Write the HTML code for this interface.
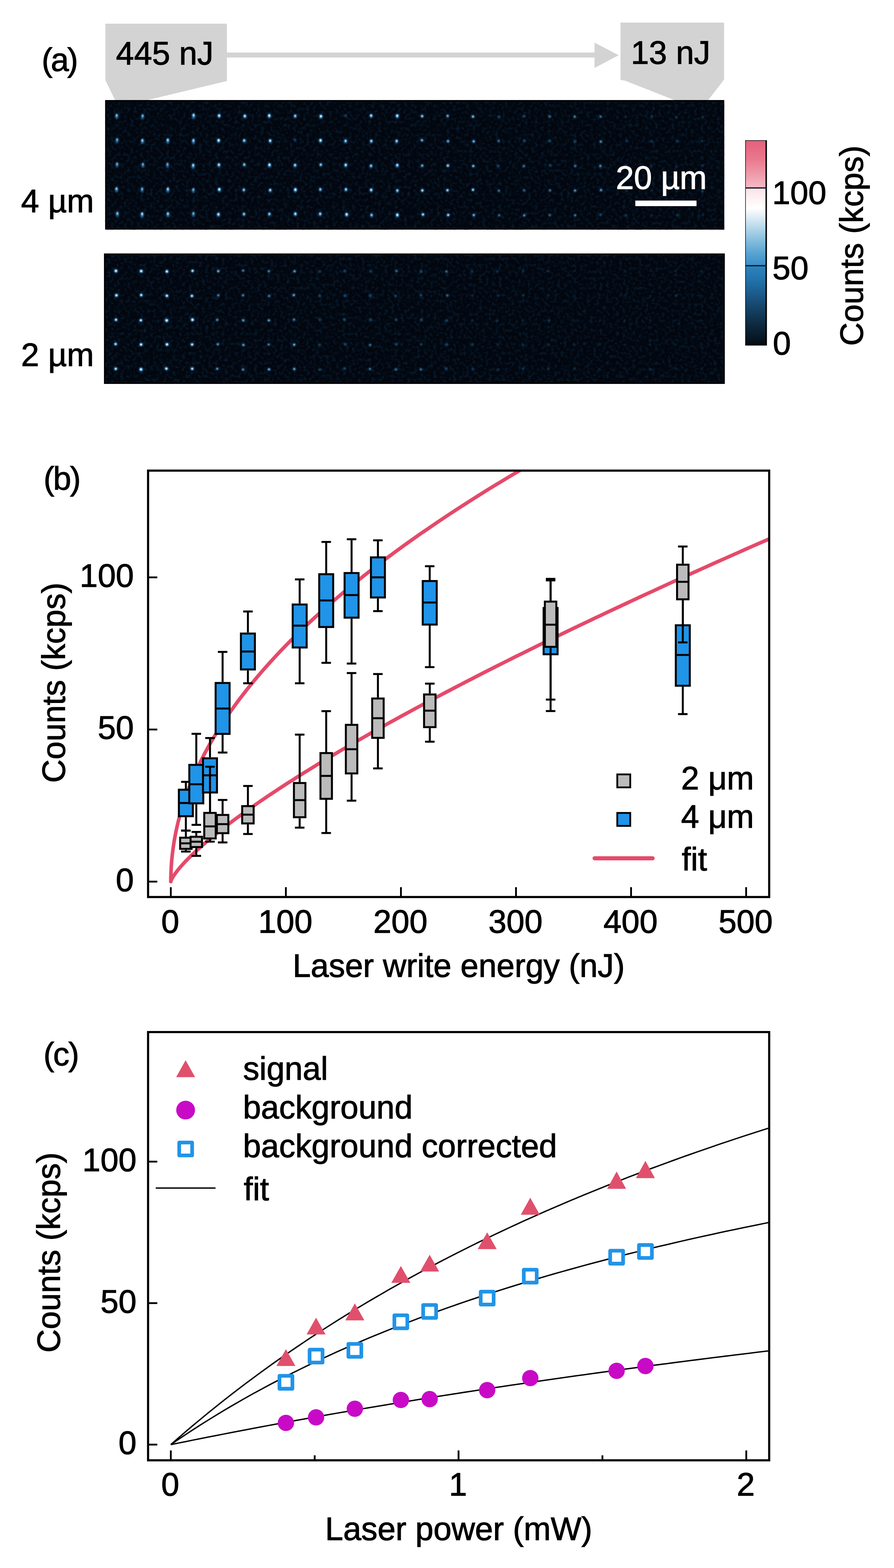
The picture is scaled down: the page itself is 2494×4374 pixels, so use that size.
<!DOCTYPE html>
<html lang="en"><head><meta charset="utf-8"><title>Figure</title>
<style>html,body{margin:0;padding:0;background:#fff}body{width:2494px;height:4374px;overflow:hidden}svg{display:block}text{font-family:'Liberation Sans', sans-serif;stroke:#000;stroke-width:1.5px;paint-order:stroke}text.w{stroke:#fff}</style>
</head><body>
<svg width="2494" height="4374" viewBox="0 0 2494 4374">
<defs>
<filter id="bl" x="-50%" y="-50%" width="200%" height="200%"><feGaussianBlur stdDeviation="1.3"/></filter>
<filter id="bl2" x="-50%" y="-50%" width="200%" height="200%"><feGaussianBlur stdDeviation="2.3"/></filter>
<filter id="nz" x="0" y="0" width="100%" height="100%" color-interpolation-filters="sRGB"><feTurbulence type="fractalNoise" baseFrequency="0.11" numOctaves="2" seed="3" result="t"/><feColorMatrix in="t" type="matrix" values="0 0 0 0 0.03  0 0 0 0 0.13  0 0 0 0 0.22  0 0 0 2.0 -0.9"/></filter>
<linearGradient id="cb" x1="0" y1="0" x2="0" y2="1">
<stop offset="0" stop-color="#e5607a"/>
<stop offset="0.09" stop-color="#e9788d"/>
<stop offset="0.175" stop-color="#f09fae"/>
<stop offset="0.228" stop-color="#f5bbc5"/>
<stop offset="0.2285" stop-color="#fbe2e6"/>
<stop offset="0.33" stop-color="#ffffff"/>
<stop offset="0.39" stop-color="#d3e6f2"/>
<stop offset="0.47" stop-color="#93c5e1"/>
<stop offset="0.555" stop-color="#55a2d2"/>
<stop offset="0.61" stop-color="#3a8fc7"/>
<stop offset="0.6105" stop-color="#2d85be"/>
<stop offset="0.68" stop-color="#2272ab"/>
<stop offset="0.73" stop-color="#1d6294"/>
<stop offset="0.81" stop-color="#15466a"/>
<stop offset="0.895" stop-color="#0d2b42"/>
<stop offset="0.98" stop-color="#06121c"/>
<stop offset="1" stop-color="#03080c"/>
</linearGradient>
</defs>
<rect width="2494" height="4374" fill="#fff"/>
<g id="panel-a">
<polygon points="294,66 633,66 633,226 408,280 321.5,280 294,224" fill="#d3d3d3"/>
<polygon points="1731,63 2020,63 2020,222 1975,280 1883.5,280 1744,225 1731,223" fill="#d3d3d3"/>
<rect x="630" y="146.5" width="1035" height="14" fill="#d3d3d3"/>
<polygon points="1658.5,119 1726,154 1658.5,189.5" fill="#d3d3d3"/>
<text x="116.2" y="198.3" font-size="90.6" text-anchor="start" fill="#000" letter-spacing="-4.5">(a)</text>
<text x="323.5" y="180" font-size="90.6" text-anchor="start" fill="#000">445 nJ</text>
<text x="1759.9" y="178" font-size="90.6" text-anchor="start" fill="#000">13 nJ</text>
<text x="58.8" y="591.6" font-size="90.6" text-anchor="start" fill="#000">4 µm</text>
<text x="58.8" y="1021.4" font-size="90.6" text-anchor="start" fill="#000">2 µm</text>
<clipPath id="cp1"><rect x="293.5" y="279.3" width="1726.8" height="360.99999999999994"/></clipPath>
<rect x="293.5" y="279.3" width="1726.8" height="360.99999999999994" fill="#02060e"/>
<rect x="293.5" y="279.3" width="1726.8" height="360.99999999999994" filter="url(#nz)"/>
<g clip-path="url(#cp1)">
<g filter="url(#bl2)"><ellipse cx="325.5" cy="324.1" rx="4.6" ry="7.8" fill="#2f95dc" opacity="0.75"/><ellipse cx="326.6" cy="391.9" rx="4.4" ry="7.5" fill="#2f95dc" opacity="0.71"/><ellipse cx="326.5" cy="459.6" rx="4.4" ry="7.5" fill="#2f95dc" opacity="0.71"/><ellipse cx="325.2" cy="528.5" rx="4.6" ry="7.9" fill="#2f95dc" opacity="0.77"/><ellipse cx="327.5" cy="597.3" rx="4.6" ry="7.9" fill="#2f95dc" opacity="0.76"/><ellipse cx="397.9" cy="325.1" rx="4.5" ry="7.6" fill="#2f95dc" opacity="0.73"/><ellipse cx="397.2" cy="393.9" rx="4.7" ry="8" fill="#2f95dc" opacity="0.79"/><ellipse cx="398.6" cy="460.6" rx="4.4" ry="7.5" fill="#2f95dc" opacity="0.71"/><ellipse cx="396.4" cy="529.3" rx="4.4" ry="7.6" fill="#2f95dc" opacity="0.72"/><ellipse cx="396.5" cy="598.8" rx="4.9" ry="8.3" fill="#2f95dc" opacity="0.82"/><ellipse cx="468.1" cy="392.8" rx="4.8" ry="8.1" fill="#2f95dc" opacity="0.80"/><ellipse cx="467.2" cy="460.5" rx="4.4" ry="7.5" fill="#2f95dc" opacity="0.71"/><ellipse cx="468.3" cy="529.5" rx="4.8" ry="8.1" fill="#2f95dc" opacity="0.80"/><ellipse cx="468.4" cy="598.2" rx="4.7" ry="8" fill="#2f95dc" opacity="0.79"/><ellipse cx="540.1" cy="323.4" rx="4.9" ry="8.2" fill="#2f95dc" opacity="0.82"/><ellipse cx="539.6" cy="394" rx="4.7" ry="8" fill="#2f95dc" opacity="0.79"/><ellipse cx="538.9" cy="463" rx="4.8" ry="8.2" fill="#2f95dc" opacity="0.81"/><ellipse cx="539.3" cy="531.1" rx="4.4" ry="7.5" fill="#2f95dc" opacity="0.72"/><ellipse cx="539.5" cy="597.6" rx="4.5" ry="7.6" fill="#2f95dc" opacity="0.72"/><ellipse cx="611.3" cy="323.3" rx="5.1" ry="6.4" fill="#2f95dc" opacity="0.88"/><ellipse cx="609.9" cy="392.3" rx="5.2" ry="6.5" fill="#2f95dc" opacity="0.91"/><ellipse cx="610.7" cy="460.3" rx="5" ry="6.3" fill="#2f95dc" opacity="0.86"/><ellipse cx="611.8" cy="529.1" rx="5.2" ry="6.5" fill="#2f95dc" opacity="0.90"/><ellipse cx="609.2" cy="598.5" rx="5.1" ry="6.4" fill="#2f95dc" opacity="0.87"/><ellipse cx="683" cy="324.2" rx="5.1" ry="6.3" fill="#2f95dc" opacity="0.87"/><ellipse cx="681.2" cy="392.5" rx="4.8" ry="6.1" fill="#2f95dc" opacity="0.82"/><ellipse cx="681.4" cy="459.7" rx="4.7" ry="5.9" fill="#2f95dc" opacity="0.78"/><ellipse cx="680.2" cy="530.2" rx="4.7" ry="5.9" fill="#2f95dc" opacity="0.79"/><ellipse cx="680.7" cy="597.7" rx="4.8" ry="5.9" fill="#2f95dc" opacity="0.79"/><ellipse cx="751.2" cy="323.3" rx="5.2" ry="6.5" fill="#2f95dc" opacity="0.91"/><ellipse cx="753.7" cy="393.1" rx="5" ry="6.3" fill="#2f95dc" opacity="0.86"/><ellipse cx="751.8" cy="460.6" rx="5.2" ry="6.5" fill="#2f95dc" opacity="0.90"/><ellipse cx="753.7" cy="530.9" rx="4.9" ry="6.1" fill="#2f95dc" opacity="0.83"/><ellipse cx="751.5" cy="597.4" rx="4.8" ry="6" fill="#2f95dc" opacity="0.80"/><ellipse cx="823.5" cy="323.9" rx="4.8" ry="6" fill="#2f95dc" opacity="0.81"/><ellipse cx="822.8" cy="390.9" rx="3.4" ry="4.3" fill="#2f95dc" opacity="0.47"/><ellipse cx="823.1" cy="461.2" rx="4.9" ry="6.2" fill="#2f95dc" opacity="0.84"/><ellipse cx="824.1" cy="529.8" rx="5.3" ry="6.6" fill="#2f95dc" opacity="0.92"/><ellipse cx="824" cy="597.1" rx="5.1" ry="6.3" fill="#2f95dc" opacity="0.87"/><ellipse cx="895.3" cy="325" rx="5.2" ry="6.5" fill="#2f95dc" opacity="0.91"/><ellipse cx="894.2" cy="392.2" rx="5.2" ry="6.5" fill="#2f95dc" opacity="0.89"/><ellipse cx="894.9" cy="459.9" rx="4.7" ry="5.9" fill="#2f95dc" opacity="0.79"/><ellipse cx="893.6" cy="528.9" rx="4.7" ry="5.9" fill="#2f95dc" opacity="0.79"/><ellipse cx="893.2" cy="597.2" rx="4.9" ry="6.1" fill="#2f95dc" opacity="0.83"/><ellipse cx="964.5" cy="322.9" rx="3.4" ry="4.3" fill="#2f95dc" opacity="0.47"/><ellipse cx="964.1" cy="393.9" rx="4.9" ry="6.1" fill="#2f95dc" opacity="0.83"/><ellipse cx="964.4" cy="460.7" rx="5.1" ry="6.3" fill="#2f95dc" opacity="0.87"/><ellipse cx="965.1" cy="529" rx="4.9" ry="6.1" fill="#2f95dc" opacity="0.83"/><ellipse cx="967" cy="598.7" rx="5.2" ry="6.5" fill="#2f95dc" opacity="0.90"/><ellipse cx="1035.3" cy="323.1" rx="5" ry="6.2" fill="#2f95dc" opacity="0.85"/><ellipse cx="1035.8" cy="393.9" rx="4.9" ry="6.1" fill="#2f95dc" opacity="0.83"/><ellipse cx="1035.1" cy="463" rx="4.8" ry="6" fill="#2f95dc" opacity="0.80"/><ellipse cx="1035.4" cy="530.5" rx="5" ry="6.2" fill="#2f95dc" opacity="0.85"/><ellipse cx="1036.6" cy="600.5" rx="4.7" ry="5.9" fill="#2f95dc" opacity="0.78"/><ellipse cx="1108.1" cy="323.7" rx="5.2" ry="6.5" fill="#2f95dc" opacity="0.90"/><ellipse cx="1106.5" cy="394" rx="4.9" ry="6.1" fill="#2f95dc" opacity="0.83"/><ellipse cx="1108.3" cy="461.3" rx="5" ry="6.3" fill="#2f95dc" opacity="0.85"/><ellipse cx="1108.4" cy="532" rx="4.8" ry="6" fill="#2f95dc" opacity="0.81"/><ellipse cx="1108.4" cy="600.2" rx="5.2" ry="6.5" fill="#2f95dc" opacity="0.90"/><ellipse cx="1177.7" cy="324" rx="4.8" ry="4.8" fill="#2f95dc" opacity="0.81"/><ellipse cx="1177.1" cy="391.2" rx="4.6" ry="4.6" fill="#2f95dc" opacity="0.76"/><ellipse cx="1177.8" cy="461.9" rx="4.6" ry="4.6" fill="#2f95dc" opacity="0.75"/><ellipse cx="1178.3" cy="531.3" rx="5" ry="5" fill="#2f95dc" opacity="0.84"/><ellipse cx="1179.9" cy="598.3" rx="5" ry="5" fill="#2f95dc" opacity="0.85"/><ellipse cx="1248.7" cy="323.2" rx="4.5" ry="4.5" fill="#2f95dc" opacity="0.74"/><ellipse cx="1249.9" cy="394" rx="4.5" ry="4.5" fill="#2f95dc" opacity="0.74"/><ellipse cx="1249.4" cy="462" rx="4.9" ry="4.9" fill="#2f95dc" opacity="0.83"/><ellipse cx="1248.3" cy="530.7" rx="4.9" ry="4.9" fill="#2f95dc" opacity="0.82"/><ellipse cx="1250.3" cy="599.7" rx="4.9" ry="4.9" fill="#2f95dc" opacity="0.84"/><ellipse cx="1319.5" cy="325.2" rx="4.7" ry="4.7" fill="#2f95dc" opacity="0.78"/><ellipse cx="1321.4" cy="394.4" rx="4.6" ry="4.6" fill="#2f95dc" opacity="0.76"/><ellipse cx="1320.2" cy="463" rx="4.6" ry="4.6" fill="#2f95dc" opacity="0.77"/><ellipse cx="1319.5" cy="529.3" rx="4.8" ry="4.8" fill="#2f95dc" opacity="0.81"/><ellipse cx="1321.7" cy="600" rx="4.5" ry="4.5" fill="#2f95dc" opacity="0.74"/><ellipse cx="1392.5" cy="325.9" rx="3.8" ry="3.8" fill="#2f95dc" opacity="0.57"/><ellipse cx="1391.1" cy="393.3" rx="4" ry="4" fill="#2f95dc" opacity="0.62"/><ellipse cx="1390" cy="463.3" rx="3.8" ry="3.8" fill="#2f95dc" opacity="0.56"/><ellipse cx="1391.6" cy="531.9" rx="4" ry="4" fill="#2f95dc" opacity="0.62"/><ellipse cx="1392.6" cy="600.3" rx="3.9" ry="3.9" fill="#2f95dc" opacity="0.60"/><ellipse cx="1461.8" cy="324.1" rx="3.9" ry="3.9" fill="#2f95dc" opacity="0.58"/><ellipse cx="1462.8" cy="392.7" rx="3.9" ry="3.9" fill="#2f95dc" opacity="0.58"/><ellipse cx="1461.4" cy="463.3" rx="4" ry="4" fill="#2f95dc" opacity="0.61"/><ellipse cx="1462.4" cy="531.1" rx="3.9" ry="3.9" fill="#2f95dc" opacity="0.60"/><ellipse cx="1462.3" cy="600.8" rx="4.2" ry="4.2" fill="#2f95dc" opacity="0.67"/><ellipse cx="1533.6" cy="325" rx="4" ry="4" fill="#2f95dc" opacity="0.62"/><ellipse cx="1533.3" cy="392.6" rx="3.8" ry="3.8" fill="#2f95dc" opacity="0.55"/><ellipse cx="1534.4" cy="461.3" rx="3.7" ry="3.7" fill="#2f95dc" opacity="0.55"/><ellipse cx="1534.2" cy="531.2" rx="4" ry="4" fill="#2f95dc" opacity="0.61"/><ellipse cx="1533.6" cy="599.9" rx="3.9" ry="3.9" fill="#2f95dc" opacity="0.59"/><ellipse cx="1603.3" cy="325.3" rx="4.2" ry="4.2" fill="#2f95dc" opacity="0.66"/><ellipse cx="1603.8" cy="394.6" rx="3.9" ry="3.9" fill="#2f95dc" opacity="0.58"/><ellipse cx="1604.7" cy="463.3" rx="4" ry="4" fill="#2f95dc" opacity="0.62"/><ellipse cx="1604.3" cy="531.5" rx="4.2" ry="4.2" fill="#2f95dc" opacity="0.67"/><ellipse cx="1604.5" cy="600.5" rx="4" ry="4" fill="#2f95dc" opacity="0.62"/><ellipse cx="1675.6" cy="325.2" rx="4" ry="4" fill="#2f95dc" opacity="0.61"/><ellipse cx="1676.1" cy="395.1" rx="4.3" ry="4.3" fill="#2f95dc" opacity="0.68"/><ellipse cx="1674.8" cy="462.9" rx="4.3" ry="4.3" fill="#2f95dc" opacity="0.68"/><ellipse cx="1676.5" cy="530.3" rx="4.3" ry="4.3" fill="#2f95dc" opacity="0.68"/><ellipse cx="1675.3" cy="598.8" rx="3.8" ry="3.8" fill="#2f95dc" opacity="0.57"/><ellipse cx="1745.2" cy="326" rx="3.1" ry="3.1" fill="#2f95dc" opacity="0.39"/><ellipse cx="1747.7" cy="393.2" rx="3.3" ry="3.3" fill="#2f95dc" opacity="0.45"/><ellipse cx="1747" cy="461.8" rx="3.3" ry="3.3" fill="#2f95dc" opacity="0.44"/><ellipse cx="1747.9" cy="530.8" rx="3.4" ry="3.4" fill="#2f95dc" opacity="0.46"/><ellipse cx="1746.2" cy="600.3" rx="3.4" ry="3.4" fill="#2f95dc" opacity="0.47"/><ellipse cx="1818.5" cy="324.7" rx="3.4" ry="3.4" fill="#2f95dc" opacity="0.47"/><ellipse cx="1817.5" cy="393.9" rx="3.2" ry="3.2" fill="#2f95dc" opacity="0.41"/><ellipse cx="1817" cy="463.8" rx="3.1" ry="3.1" fill="#2f95dc" opacity="0.38"/><ellipse cx="1817.7" cy="531.6" rx="3" ry="3" fill="#2f95dc" opacity="0.36"/><ellipse cx="1817" cy="600.9" rx="3" ry="3" fill="#2f95dc" opacity="0.36"/><ellipse cx="1887.2" cy="327.4" rx="3.2" ry="3.2" fill="#2f95dc" opacity="0.42"/><ellipse cx="1889.9" cy="393.4" rx="3.3" ry="3.3" fill="#2f95dc" opacity="0.45"/><ellipse cx="1887.1" cy="464.1" rx="3.1" ry="3.1" fill="#2f95dc" opacity="0.39"/><ellipse cx="1887.4" cy="531.8" rx="3.1" ry="3.1" fill="#2f95dc" opacity="0.39"/><ellipse cx="1889.5" cy="600" rx="3.4" ry="3.4" fill="#2f95dc" opacity="0.47"/><ellipse cx="1960.8" cy="326.3" rx="3" ry="3" fill="#2f95dc" opacity="0.38"/><ellipse cx="1958.3" cy="393.5" rx="3.3" ry="3.3" fill="#2f95dc" opacity="0.44"/><ellipse cx="1959.3" cy="462.2" rx="3.3" ry="3.3" fill="#2f95dc" opacity="0.44"/><ellipse cx="1959.9" cy="533.1" rx="3.4" ry="3.4" fill="#2f95dc" opacity="0.47"/><ellipse cx="1960.6" cy="599.6" rx="3" ry="3" fill="#2f95dc" opacity="0.37"/></g>
<g filter="url(#bl)"><ellipse cx="325.5" cy="322" rx="2.4" ry="3.4" fill="#f2f9ff" opacity="0.62"/><ellipse cx="326.6" cy="389.8" rx="2.3" ry="3.3" fill="#f2f9ff" opacity="0.53"/><ellipse cx="326.5" cy="457.5" rx="2.3" ry="3.2" fill="#f2f9ff" opacity="0.53"/><ellipse cx="325.2" cy="526.4" rx="2.4" ry="3.5" fill="#f2f9ff" opacity="0.66"/><ellipse cx="327.5" cy="595.2" rx="2.4" ry="3.5" fill="#f2f9ff" opacity="0.65"/><ellipse cx="397.9" cy="323" rx="2.4" ry="3.3" fill="#f2f9ff" opacity="0.59"/><ellipse cx="397.2" cy="391.8" rx="2.5" ry="3.6" fill="#f2f9ff" opacity="0.71"/><ellipse cx="398.6" cy="458.5" rx="2.3" ry="3.2" fill="#f2f9ff" opacity="0.53"/><ellipse cx="396.4" cy="527.2" rx="2.3" ry="3.3" fill="#f2f9ff" opacity="0.56"/><ellipse cx="396.5" cy="596.7" rx="2.6" ry="3.7" fill="#f2f9ff" opacity="0.79"/><ellipse cx="468.1" cy="390.7" rx="2.5" ry="3.6" fill="#f2f9ff" opacity="0.73"/><ellipse cx="467.2" cy="458.4" rx="2.3" ry="3.2" fill="#f2f9ff" opacity="0.53"/><ellipse cx="468.3" cy="527.4" rx="2.5" ry="3.6" fill="#f2f9ff" opacity="0.74"/><ellipse cx="468.4" cy="596.1" rx="2.5" ry="3.6" fill="#f2f9ff" opacity="0.71"/><ellipse cx="540.1" cy="321.3" rx="2.6" ry="3.7" fill="#f2f9ff" opacity="0.78"/><ellipse cx="539.6" cy="391.9" rx="2.5" ry="3.6" fill="#f2f9ff" opacity="0.71"/><ellipse cx="538.9" cy="460.9" rx="2.6" ry="3.6" fill="#f2f9ff" opacity="0.76"/><ellipse cx="539.3" cy="529" rx="2.3" ry="3.3" fill="#f2f9ff" opacity="0.55"/><ellipse cx="539.5" cy="595.5" rx="2.3" ry="3.3" fill="#f2f9ff" opacity="0.56"/><ellipse cx="611.3" cy="322.5" rx="2.8" ry="3.2" fill="#f2f9ff" opacity="0.91"/><ellipse cx="609.9" cy="391.6" rx="2.8" ry="3.3" fill="#f2f9ff" opacity="0.98"/><ellipse cx="610.7" cy="459.6" rx="2.7" ry="3.1" fill="#f2f9ff" opacity="0.88"/><ellipse cx="611.8" cy="528.3" rx="2.8" ry="3.2" fill="#f2f9ff" opacity="0.97"/><ellipse cx="609.2" cy="597.7" rx="2.7" ry="3.2" fill="#f2f9ff" opacity="0.91"/><ellipse cx="683" cy="323.5" rx="2.7" ry="3.2" fill="#f2f9ff" opacity="0.90"/><ellipse cx="681.2" cy="391.7" rx="2.6" ry="3" fill="#f2f9ff" opacity="0.78"/><ellipse cx="681.4" cy="458.9" rx="2.5" ry="2.9" fill="#f2f9ff" opacity="0.69"/><ellipse cx="680.2" cy="529.4" rx="2.5" ry="2.9" fill="#f2f9ff" opacity="0.72"/><ellipse cx="680.7" cy="597" rx="2.5" ry="2.9" fill="#f2f9ff" opacity="0.72"/><ellipse cx="751.2" cy="322.5" rx="2.8" ry="3.3" fill="#f2f9ff" opacity="0.98"/><ellipse cx="753.7" cy="392.4" rx="2.7" ry="3.1" fill="#f2f9ff" opacity="0.87"/><ellipse cx="751.8" cy="459.8" rx="2.8" ry="3.3" fill="#f2f9ff" opacity="0.97"/><ellipse cx="753.7" cy="530.2" rx="2.6" ry="3" fill="#f2f9ff" opacity="0.80"/><ellipse cx="751.5" cy="596.7" rx="2.5" ry="2.9" fill="#f2f9ff" opacity="0.73"/><ellipse cx="823.5" cy="323.2" rx="2.6" ry="3" fill="#f2f9ff" opacity="0.76"/><ellipse cx="823.1" cy="460.5" rx="2.6" ry="3" fill="#f2f9ff" opacity="0.82"/><ellipse cx="824.1" cy="529" rx="2.9" ry="3.3" fill="#f2f9ff" opacity="1.00"/><ellipse cx="824" cy="596.4" rx="2.7" ry="3.1" fill="#f2f9ff" opacity="0.89"/><ellipse cx="895.3" cy="324.2" rx="2.8" ry="3.3" fill="#f2f9ff" opacity="0.99"/><ellipse cx="894.2" cy="391.5" rx="2.8" ry="3.2" fill="#f2f9ff" opacity="0.95"/><ellipse cx="894.9" cy="459.2" rx="2.5" ry="2.9" fill="#f2f9ff" opacity="0.72"/><ellipse cx="893.6" cy="528.2" rx="2.5" ry="2.9" fill="#f2f9ff" opacity="0.70"/><ellipse cx="893.2" cy="596.4" rx="2.6" ry="3" fill="#f2f9ff" opacity="0.80"/><ellipse cx="964.1" cy="393.1" rx="2.6" ry="3" fill="#f2f9ff" opacity="0.80"/><ellipse cx="964.4" cy="460" rx="2.7" ry="3.1" fill="#f2f9ff" opacity="0.89"/><ellipse cx="965.1" cy="528.3" rx="2.6" ry="3" fill="#f2f9ff" opacity="0.80"/><ellipse cx="967" cy="598" rx="2.8" ry="3.3" fill="#f2f9ff" opacity="0.97"/><ellipse cx="1035.3" cy="322.3" rx="2.7" ry="3.1" fill="#f2f9ff" opacity="0.84"/><ellipse cx="1035.8" cy="393.2" rx="2.6" ry="3" fill="#f2f9ff" opacity="0.80"/><ellipse cx="1035.1" cy="462.3" rx="2.5" ry="2.9" fill="#f2f9ff" opacity="0.73"/><ellipse cx="1035.4" cy="529.7" rx="2.7" ry="3.1" fill="#f2f9ff" opacity="0.86"/><ellipse cx="1036.6" cy="599.7" rx="2.5" ry="2.9" fill="#f2f9ff" opacity="0.69"/><ellipse cx="1108.1" cy="323" rx="2.8" ry="3.3" fill="#f2f9ff" opacity="0.97"/><ellipse cx="1106.5" cy="393.2" rx="2.6" ry="3" fill="#f2f9ff" opacity="0.80"/><ellipse cx="1108.3" cy="460.6" rx="2.7" ry="3.1" fill="#f2f9ff" opacity="0.86"/><ellipse cx="1108.4" cy="531.3" rx="2.6" ry="2.9" fill="#f2f9ff" opacity="0.76"/><ellipse cx="1108.4" cy="599.5" rx="2.8" ry="3.3" fill="#f2f9ff" opacity="0.97"/><ellipse cx="1177.7" cy="324" rx="2.6" ry="2.6" fill="#f2f9ff" opacity="0.77"/><ellipse cx="1177.1" cy="391.2" rx="2.4" ry="2.4" fill="#f2f9ff" opacity="0.65"/><ellipse cx="1177.8" cy="461.9" rx="2.4" ry="2.4" fill="#f2f9ff" opacity="0.63"/><ellipse cx="1178.3" cy="531.3" rx="2.7" ry="2.7" fill="#f2f9ff" opacity="0.84"/><ellipse cx="1179.9" cy="598.3" rx="2.7" ry="2.7" fill="#f2f9ff" opacity="0.85"/><ellipse cx="1248.7" cy="323.2" rx="2.4" ry="2.4" fill="#f2f9ff" opacity="0.61"/><ellipse cx="1249.9" cy="394" rx="2.4" ry="2.4" fill="#f2f9ff" opacity="0.61"/><ellipse cx="1249.4" cy="462" rx="2.6" ry="2.6" fill="#f2f9ff" opacity="0.80"/><ellipse cx="1248.3" cy="530.7" rx="2.6" ry="2.6" fill="#f2f9ff" opacity="0.79"/><ellipse cx="1250.3" cy="599.7" rx="2.6" ry="2.6" fill="#f2f9ff" opacity="0.82"/><ellipse cx="1319.5" cy="325.2" rx="2.5" ry="2.5" fill="#f2f9ff" opacity="0.69"/><ellipse cx="1321.4" cy="394.4" rx="2.4" ry="2.4" fill="#f2f9ff" opacity="0.65"/><ellipse cx="1320.2" cy="463" rx="2.5" ry="2.5" fill="#f2f9ff" opacity="0.67"/><ellipse cx="1319.5" cy="529.3" rx="2.6" ry="2.6" fill="#f2f9ff" opacity="0.77"/><ellipse cx="1321.7" cy="600" rx="2.4" ry="2.4" fill="#f2f9ff" opacity="0.59"/><ellipse cx="1391.1" cy="393.3" rx="2" ry="2" fill="#f2f9ff" opacity="0.34"/><ellipse cx="1391.6" cy="531.9" rx="2" ry="2" fill="#f2f9ff" opacity="0.34"/><ellipse cx="1392.6" cy="600.3" rx="2" ry="2" fill="#f2f9ff" opacity="0.28"/><ellipse cx="1461.4" cy="463.3" rx="2" ry="2" fill="#f2f9ff" opacity="0.30"/><ellipse cx="1462.4" cy="531.1" rx="2" ry="2" fill="#f2f9ff" opacity="0.28"/><ellipse cx="1462.3" cy="600.8" rx="2.2" ry="2.2" fill="#f2f9ff" opacity="0.45"/><ellipse cx="1533.6" cy="325" rx="2" ry="2" fill="#f2f9ff" opacity="0.32"/><ellipse cx="1534.2" cy="531.2" rx="2" ry="2" fill="#f2f9ff" opacity="0.31"/><ellipse cx="1533.6" cy="599.9" rx="2" ry="2" fill="#f2f9ff" opacity="0.27"/><ellipse cx="1603.3" cy="325.3" rx="2.1" ry="2.1" fill="#f2f9ff" opacity="0.41"/><ellipse cx="1604.7" cy="463.3" rx="2" ry="2" fill="#f2f9ff" opacity="0.33"/><ellipse cx="1604.3" cy="531.5" rx="2.2" ry="2.2" fill="#f2f9ff" opacity="0.45"/><ellipse cx="1604.5" cy="600.5" rx="2" ry="2" fill="#f2f9ff" opacity="0.32"/><ellipse cx="1675.6" cy="325.2" rx="2" ry="2" fill="#f2f9ff" opacity="0.31"/><ellipse cx="1676.1" cy="395.1" rx="2.2" ry="2.2" fill="#f2f9ff" opacity="0.46"/><ellipse cx="1674.8" cy="462.9" rx="2.2" ry="2.2" fill="#f2f9ff" opacity="0.46"/><ellipse cx="1676.5" cy="530.3" rx="2.2" ry="2.2" fill="#f2f9ff" opacity="0.46"/></g>
</g>
<rect x="295.25" y="281.05" width="1723.3" height="357.5" fill="none" stroke="#000" stroke-width="3.5"/>
<clipPath id="cp2"><rect x="290.2" y="707.2" width="1731.8" height="363.5999999999999"/></clipPath>
<rect x="290.2" y="707.2" width="1731.8" height="363.5999999999999" fill="#02060e"/>
<rect x="290.2" y="707.2" width="1731.8" height="363.5999999999999" filter="url(#nz)"/>
<g clip-path="url(#cp2)">
<g filter="url(#bl2)"><ellipse cx="323.4" cy="755.7" rx="5.5" ry="5.5" fill="#2f95dc" opacity="0.98"/><ellipse cx="324.8" cy="823.8" rx="5.3" ry="5.3" fill="#2f95dc" opacity="0.93"/><ellipse cx="323.6" cy="892" rx="5.1" ry="5.1" fill="#2f95dc" opacity="0.87"/><ellipse cx="322.5" cy="959.8" rx="5" ry="5" fill="#2f95dc" opacity="0.87"/><ellipse cx="322.9" cy="1028.8" rx="5.1" ry="5.1" fill="#2f95dc" opacity="0.88"/><ellipse cx="393.9" cy="756.2" rx="5.5" ry="5.5" fill="#2f95dc" opacity="0.96"/><ellipse cx="394" cy="823.1" rx="5.1" ry="5.1" fill="#2f95dc" opacity="0.88"/><ellipse cx="393" cy="893.5" rx="5.1" ry="5.1" fill="#2f95dc" opacity="0.89"/><ellipse cx="393.6" cy="961" rx="5.3" ry="5.3" fill="#2f95dc" opacity="0.93"/><ellipse cx="393.3" cy="1030.4" rx="5.6" ry="5.6" fill="#2f95dc" opacity="0.99"/><ellipse cx="465.5" cy="757.2" rx="5.2" ry="5.2" fill="#2f95dc" opacity="0.91"/><ellipse cx="465.5" cy="825.1" rx="5.2" ry="5.2" fill="#2f95dc" opacity="0.91"/><ellipse cx="465" cy="893.8" rx="5.6" ry="5.6" fill="#2f95dc" opacity="1.00"/><ellipse cx="465.9" cy="960.8" rx="5.4" ry="5.4" fill="#2f95dc" opacity="0.96"/><ellipse cx="464.2" cy="1028.3" rx="5.2" ry="5.2" fill="#2f95dc" opacity="0.90"/><ellipse cx="537.2" cy="755.5" rx="5" ry="5" fill="#2f95dc" opacity="0.86"/><ellipse cx="535.3" cy="825.5" rx="5.1" ry="5.1" fill="#2f95dc" opacity="0.87"/><ellipse cx="537" cy="892.1" rx="5.5" ry="5.5" fill="#2f95dc" opacity="0.98"/><ellipse cx="535.9" cy="961" rx="5.1" ry="5.1" fill="#2f95dc" opacity="0.89"/><ellipse cx="536.3" cy="1028.7" rx="5.1" ry="5.1" fill="#2f95dc" opacity="0.87"/><ellipse cx="608.9" cy="756.3" rx="4.6" ry="4.6" fill="#2f95dc" opacity="0.75"/><ellipse cx="608.9" cy="823.9" rx="4.2" ry="4.2" fill="#2f95dc" opacity="0.66"/><ellipse cx="606" cy="892.4" rx="4.2" ry="4.2" fill="#2f95dc" opacity="0.67"/><ellipse cx="607.5" cy="960.2" rx="4.3" ry="4.3" fill="#2f95dc" opacity="0.69"/><ellipse cx="606" cy="1028.7" rx="4.3" ry="4.3" fill="#2f95dc" opacity="0.69"/><ellipse cx="678.2" cy="754.8" rx="4.1" ry="4.1" fill="#2f95dc" opacity="0.64"/><ellipse cx="677.9" cy="823.7" rx="4.1" ry="4.1" fill="#2f95dc" opacity="0.63"/><ellipse cx="678.6" cy="893.6" rx="4.4" ry="4.4" fill="#2f95dc" opacity="0.70"/><ellipse cx="679.1" cy="962.2" rx="4.4" ry="4.4" fill="#2f95dc" opacity="0.71"/><ellipse cx="678" cy="1030.9" rx="4.3" ry="4.3" fill="#2f95dc" opacity="0.68"/><ellipse cx="750.2" cy="756.6" rx="4.1" ry="4.1" fill="#2f95dc" opacity="0.65"/><ellipse cx="750.5" cy="825.7" rx="4.1" ry="4.1" fill="#2f95dc" opacity="0.63"/><ellipse cx="750.2" cy="893.7" rx="4.4" ry="4.4" fill="#2f95dc" opacity="0.71"/><ellipse cx="749.6" cy="961.1" rx="4.1" ry="4.1" fill="#2f95dc" opacity="0.64"/><ellipse cx="750.4" cy="1030.4" rx="4.5" ry="4.5" fill="#2f95dc" opacity="0.74"/><ellipse cx="821.7" cy="756.7" rx="4.4" ry="4.4" fill="#2f95dc" opacity="0.70"/><ellipse cx="819.7" cy="823.1" rx="4.4" ry="4.4" fill="#2f95dc" opacity="0.72"/><ellipse cx="820.1" cy="891.6" rx="4.1" ry="4.1" fill="#2f95dc" opacity="0.64"/><ellipse cx="820.7" cy="961.5" rx="4.5" ry="4.5" fill="#2f95dc" opacity="0.74"/><ellipse cx="821" cy="1029.4" rx="4.4" ry="4.4" fill="#2f95dc" opacity="0.71"/><ellipse cx="892.4" cy="756.9" rx="3.5" ry="3.5" fill="#2f95dc" opacity="0.50"/><ellipse cx="891.6" cy="825" rx="3.8" ry="3.8" fill="#2f95dc" opacity="0.56"/><ellipse cx="892.2" cy="892.1" rx="3.6" ry="3.6" fill="#2f95dc" opacity="0.51"/><ellipse cx="890.8" cy="961.8" rx="3.6" ry="3.6" fill="#2f95dc" opacity="0.51"/><ellipse cx="892.2" cy="1030.8" rx="3.6" ry="3.6" fill="#2f95dc" opacity="0.52"/><ellipse cx="962.1" cy="756.1" rx="3.8" ry="3.8" fill="#2f95dc" opacity="0.56"/><ellipse cx="963.3" cy="824.9" rx="3.9" ry="3.9" fill="#2f95dc" opacity="0.58"/><ellipse cx="961.2" cy="891.7" rx="3.9" ry="3.9" fill="#2f95dc" opacity="0.58"/><ellipse cx="963.2" cy="960.5" rx="3.7" ry="3.7" fill="#2f95dc" opacity="0.53"/><ellipse cx="961" cy="1028.1" rx="3.8" ry="3.8" fill="#2f95dc" opacity="0.57"/><ellipse cx="1034" cy="756.8" rx="3.7" ry="3.7" fill="#2f95dc" opacity="0.53"/><ellipse cx="1032.9" cy="824.5" rx="3.9" ry="3.9" fill="#2f95dc" opacity="0.58"/><ellipse cx="1033.4" cy="891.7" rx="3.8" ry="3.8" fill="#2f95dc" opacity="0.56"/><ellipse cx="1032.6" cy="962.5" rx="4" ry="4" fill="#2f95dc" opacity="0.61"/><ellipse cx="1032.1" cy="1029.3" rx="4" ry="4" fill="#2f95dc" opacity="0.62"/><ellipse cx="1105.9" cy="756" rx="4" ry="4" fill="#2f95dc" opacity="0.60"/><ellipse cx="1103.6" cy="825.8" rx="3.7" ry="3.7" fill="#2f95dc" opacity="0.53"/><ellipse cx="1104.7" cy="891.7" rx="3.6" ry="3.6" fill="#2f95dc" opacity="0.52"/><ellipse cx="1105.9" cy="960" rx="3.8" ry="3.8" fill="#2f95dc" opacity="0.56"/><ellipse cx="1104.5" cy="1030.6" rx="4" ry="4" fill="#2f95dc" opacity="0.60"/><ellipse cx="1174.7" cy="757.4" rx="3.9" ry="3.9" fill="#2f95dc" opacity="0.59"/><ellipse cx="1174.1" cy="823" rx="3.8" ry="3.8" fill="#2f95dc" opacity="0.56"/><ellipse cx="1175.4" cy="892.2" rx="3.8" ry="3.8" fill="#2f95dc" opacity="0.56"/><ellipse cx="1175" cy="960.5" rx="3.6" ry="3.6" fill="#2f95dc" opacity="0.52"/><ellipse cx="1174" cy="1030.2" rx="4" ry="4" fill="#2f95dc" opacity="0.60"/><ellipse cx="1245.4" cy="757.5" rx="4" ry="4" fill="#2f95dc" opacity="0.60"/><ellipse cx="1247.7" cy="823.9" rx="3.9" ry="3.9" fill="#2f95dc" opacity="0.59"/><ellipse cx="1246.2" cy="894.3" rx="3.7" ry="3.7" fill="#2f95dc" opacity="0.54"/><ellipse cx="1246.1" cy="960.9" rx="3.8" ry="3.8" fill="#2f95dc" opacity="0.57"/><ellipse cx="1245.1" cy="1028.2" rx="3.7" ry="3.7" fill="#2f95dc" opacity="0.53"/><ellipse cx="1316.9" cy="757.5" rx="3.4" ry="3.4" fill="#2f95dc" opacity="0.46"/><ellipse cx="1316.8" cy="824.5" rx="3.1" ry="3.1" fill="#2f95dc" opacity="0.39"/><ellipse cx="1317.1" cy="894.2" rx="3.1" ry="3.1" fill="#2f95dc" opacity="0.38"/><ellipse cx="1318.4" cy="961.5" rx="3.4" ry="3.4" fill="#2f95dc" opacity="0.46"/><ellipse cx="1318.8" cy="1029.5" rx="3.4" ry="3.4" fill="#2f95dc" opacity="0.47"/><ellipse cx="1387.1" cy="756.9" rx="3.3" ry="3.3" fill="#2f95dc" opacity="0.44"/><ellipse cx="1389.3" cy="824.9" rx="3.2" ry="3.2" fill="#2f95dc" opacity="0.41"/><ellipse cx="1387.1" cy="894.1" rx="3.1" ry="3.1" fill="#2f95dc" opacity="0.39"/><ellipse cx="1388.4" cy="960.6" rx="3" ry="3" fill="#2f95dc" opacity="0.38"/><ellipse cx="1389.2" cy="1030.8" rx="3.1" ry="3.1" fill="#2f95dc" opacity="0.40"/><ellipse cx="1460" cy="755.6" rx="3.1" ry="3.1" fill="#2f95dc" opacity="0.39"/><ellipse cx="1459.2" cy="823.5" rx="3.2" ry="3.2" fill="#2f95dc" opacity="0.43"/><ellipse cx="1458.6" cy="894" rx="3" ry="3" fill="#2f95dc" opacity="0.38"/><ellipse cx="1458.7" cy="962.3" rx="3.2" ry="3.2" fill="#2f95dc" opacity="0.42"/><ellipse cx="1459.3" cy="1028.3" rx="3.4" ry="3.4" fill="#2f95dc" opacity="0.47"/><ellipse cx="1529.3" cy="755.7" rx="3.1" ry="3.1" fill="#2f95dc" opacity="0.38"/><ellipse cx="1529.7" cy="823.8" rx="3" ry="3" fill="#2f95dc" opacity="0.37"/><ellipse cx="1531.7" cy="893.5" rx="3.2" ry="3.2" fill="#2f95dc" opacity="0.43"/><ellipse cx="1530.2" cy="961.2" rx="3.2" ry="3.2" fill="#2f95dc" opacity="0.41"/><ellipse cx="1530" cy="1028.1" rx="3.1" ry="3.1" fill="#2f95dc" opacity="0.40"/><ellipse cx="1602.9" cy="755.1" rx="2.6" ry="2.6" fill="#2f95dc" opacity="0.28"/><ellipse cx="1601.9" cy="825.6" rx="2.7" ry="2.7" fill="#2f95dc" opacity="0.31"/><ellipse cx="1600.8" cy="892" rx="2.6" ry="2.6" fill="#2f95dc" opacity="0.27"/><ellipse cx="1601.3" cy="962.5" rx="2.7" ry="2.7" fill="#2f95dc" opacity="0.29"/><ellipse cx="1602.6" cy="1028" rx="2.9" ry="2.9" fill="#2f95dc" opacity="0.35"/><ellipse cx="1673.1" cy="757.4" rx="2.5" ry="2.5" fill="#2f95dc" opacity="0.25"/><ellipse cx="1672.8" cy="823" rx="2.7" ry="2.7" fill="#2f95dc" opacity="0.30"/><ellipse cx="1673.8" cy="893.8" rx="2.7" ry="2.7" fill="#2f95dc" opacity="0.29"/><ellipse cx="1673.9" cy="960.3" rx="2.9" ry="2.9" fill="#2f95dc" opacity="0.35"/><ellipse cx="1671.5" cy="1029.5" rx="2.6" ry="2.6" fill="#2f95dc" opacity="0.26"/><ellipse cx="1744.8" cy="756.9" rx="2.8" ry="2.8" fill="#2f95dc" opacity="0.33"/><ellipse cx="1744.3" cy="824.4" rx="2.8" ry="2.8" fill="#2f95dc" opacity="0.32"/><ellipse cx="1742.1" cy="893.6" rx="2.8" ry="2.8" fill="#2f95dc" opacity="0.31"/><ellipse cx="1744.8" cy="961.5" rx="2.6" ry="2.6" fill="#2f95dc" opacity="0.28"/><ellipse cx="1742.4" cy="1028.7" rx="2.6" ry="2.6" fill="#2f95dc" opacity="0.28"/><ellipse cx="1815.1" cy="755" rx="2.8" ry="2.8" fill="#2f95dc" opacity="0.32"/><ellipse cx="1814.6" cy="824.7" rx="2.5" ry="2.5" fill="#2f95dc" opacity="0.26"/><ellipse cx="1813.7" cy="893.1" rx="2.7" ry="2.7" fill="#2f95dc" opacity="0.29"/><ellipse cx="1813.9" cy="961" rx="2.5" ry="2.5" fill="#2f95dc" opacity="0.25"/><ellipse cx="1814.9" cy="1030.6" rx="2.9" ry="2.9" fill="#2f95dc" opacity="0.36"/><ellipse cx="1884.7" cy="755.4" rx="2.7" ry="2.7" fill="#2f95dc" opacity="0.30"/><ellipse cx="1886.1" cy="823.9" rx="2.9" ry="2.9" fill="#2f95dc" opacity="0.36"/><ellipse cx="1885.5" cy="893.3" rx="2.5" ry="2.5" fill="#2f95dc" opacity="0.25"/><ellipse cx="1884.8" cy="961.6" rx="2.7" ry="2.7" fill="#2f95dc" opacity="0.30"/><ellipse cx="1884.7" cy="1028" rx="2.9" ry="2.9" fill="#2f95dc" opacity="0.35"/><ellipse cx="1956.3" cy="756.7" rx="2.7" ry="2.7" fill="#2f95dc" opacity="0.29"/><ellipse cx="1957.4" cy="825.2" rx="2.6" ry="2.6" fill="#2f95dc" opacity="0.27"/><ellipse cx="1955.6" cy="894.2" rx="2.7" ry="2.7" fill="#2f95dc" opacity="0.31"/><ellipse cx="1957.5" cy="960.3" rx="2.6" ry="2.6" fill="#2f95dc" opacity="0.29"/><ellipse cx="1957.3" cy="1028.8" rx="2.6" ry="2.6" fill="#2f95dc" opacity="0.27"/></g>
<g filter="url(#bl)"><ellipse cx="323.4" cy="755.7" rx="3" ry="3" fill="#f2f9ff" opacity="1.00"/><ellipse cx="324.8" cy="823.8" rx="2.9" ry="2.9" fill="#f2f9ff" opacity="1.00"/><ellipse cx="323.6" cy="892" rx="2.7" ry="2.7" fill="#f2f9ff" opacity="0.89"/><ellipse cx="322.5" cy="959.8" rx="2.7" ry="2.7" fill="#f2f9ff" opacity="0.89"/><ellipse cx="322.9" cy="1028.8" rx="2.8" ry="2.8" fill="#f2f9ff" opacity="0.92"/><ellipse cx="393.9" cy="756.2" rx="3" ry="3" fill="#f2f9ff" opacity="1.00"/><ellipse cx="394" cy="823.1" rx="2.8" ry="2.8" fill="#f2f9ff" opacity="0.91"/><ellipse cx="393" cy="893.5" rx="2.8" ry="2.8" fill="#f2f9ff" opacity="0.94"/><ellipse cx="393.6" cy="961" rx="2.9" ry="2.9" fill="#f2f9ff" opacity="1.00"/><ellipse cx="393.3" cy="1030.4" rx="3.1" ry="3.1" fill="#f2f9ff" opacity="1.00"/><ellipse cx="465.5" cy="757.2" rx="2.9" ry="2.9" fill="#f2f9ff" opacity="1.00"/><ellipse cx="465.5" cy="825.1" rx="2.8" ry="2.8" fill="#f2f9ff" opacity="0.98"/><ellipse cx="465" cy="893.8" rx="3.1" ry="3.1" fill="#f2f9ff" opacity="1.00"/><ellipse cx="465.9" cy="960.8" rx="3" ry="3" fill="#f2f9ff" opacity="1.00"/><ellipse cx="464.2" cy="1028.3" rx="2.8" ry="2.8" fill="#f2f9ff" opacity="0.97"/><ellipse cx="537.2" cy="755.5" rx="2.7" ry="2.7" fill="#f2f9ff" opacity="0.87"/><ellipse cx="535.3" cy="825.5" rx="2.7" ry="2.7" fill="#f2f9ff" opacity="0.91"/><ellipse cx="537" cy="892.1" rx="3" ry="3" fill="#f2f9ff" opacity="1.00"/><ellipse cx="535.9" cy="961" rx="2.8" ry="2.8" fill="#f2f9ff" opacity="0.93"/><ellipse cx="536.3" cy="1028.7" rx="2.7" ry="2.7" fill="#f2f9ff" opacity="0.90"/><ellipse cx="608.9" cy="756.3" rx="2.4" ry="2.4" fill="#f2f9ff" opacity="0.63"/><ellipse cx="608.9" cy="823.9" rx="2.1" ry="2.1" fill="#f2f9ff" opacity="0.41"/><ellipse cx="606" cy="892.4" rx="2.2" ry="2.2" fill="#f2f9ff" opacity="0.45"/><ellipse cx="607.5" cy="960.2" rx="2.2" ry="2.2" fill="#f2f9ff" opacity="0.49"/><ellipse cx="606" cy="1028.7" rx="2.2" ry="2.2" fill="#f2f9ff" opacity="0.49"/><ellipse cx="678.2" cy="754.8" rx="2.1" ry="2.1" fill="#f2f9ff" opacity="0.37"/><ellipse cx="677.9" cy="823.7" rx="2.1" ry="2.1" fill="#f2f9ff" opacity="0.35"/><ellipse cx="678.6" cy="893.6" rx="2.3" ry="2.3" fill="#f2f9ff" opacity="0.52"/><ellipse cx="679.1" cy="962.2" rx="2.3" ry="2.3" fill="#f2f9ff" opacity="0.54"/><ellipse cx="678" cy="1030.9" rx="2.2" ry="2.2" fill="#f2f9ff" opacity="0.46"/><ellipse cx="750.2" cy="756.6" rx="2.1" ry="2.1" fill="#f2f9ff" opacity="0.39"/><ellipse cx="750.5" cy="825.7" rx="2.1" ry="2.1" fill="#f2f9ff" opacity="0.35"/><ellipse cx="750.2" cy="893.7" rx="2.3" ry="2.3" fill="#f2f9ff" opacity="0.53"/><ellipse cx="749.6" cy="961.1" rx="2.1" ry="2.1" fill="#f2f9ff" opacity="0.38"/><ellipse cx="750.4" cy="1030.4" rx="2.4" ry="2.4" fill="#f2f9ff" opacity="0.60"/><ellipse cx="821.7" cy="756.7" rx="2.3" ry="2.3" fill="#f2f9ff" opacity="0.52"/><ellipse cx="819.7" cy="823.1" rx="2.3" ry="2.3" fill="#f2f9ff" opacity="0.55"/><ellipse cx="820.1" cy="891.6" rx="2.1" ry="2.1" fill="#f2f9ff" opacity="0.38"/><ellipse cx="820.7" cy="961.5" rx="2.4" ry="2.4" fill="#f2f9ff" opacity="0.60"/><ellipse cx="821" cy="1029.4" rx="2.3" ry="2.3" fill="#f2f9ff" opacity="0.53"/><ellipse cx="1032.6" cy="962.5" rx="2" ry="2" fill="#f2f9ff" opacity="0.31"/><ellipse cx="1032.1" cy="1029.3" rx="2" ry="2" fill="#f2f9ff" opacity="0.32"/><ellipse cx="1105.9" cy="756" rx="2" ry="2" fill="#f2f9ff" opacity="0.29"/><ellipse cx="1104.5" cy="1030.6" rx="2" ry="2" fill="#f2f9ff" opacity="0.29"/><ellipse cx="1174" cy="1030.2" rx="2" ry="2" fill="#f2f9ff" opacity="0.29"/><ellipse cx="1245.4" cy="757.5" rx="2" ry="2" fill="#f2f9ff" opacity="0.29"/><ellipse cx="1247.7" cy="823.9" rx="1.9" ry="1.9" fill="#f2f9ff" opacity="0.26"/></g>
</g>
<rect x="291.95" y="708.95" width="1728.3" height="360.1" fill="none" stroke="#000" stroke-width="3.5"/>
<rect x="1772.3" y="559.5" width="170.8" height="15.5" fill="#fff"/>
<text x="1718" y="526.9" font-size="90.6" text-anchor="start" fill="#fff" class="w">20 µm</text>
<rect x="2079" y="392" width="60" height="571" fill="url(#cb)"/>
<rect x="2079.7" y="392" width="58.5" height="571" fill="none" stroke="#000" stroke-width="1.5"/>
<rect x="2135.5" y="391.5" width="4" height="572" fill="#000"/>
<rect x="2079" y="522.5" width="60" height="3.5" fill="#101820"/>
<rect x="2079" y="739.5" width="60" height="3.5" fill="#0a1a28"/>
<rect x="2079" y="959" width="60" height="4.5" fill="#000"/>
<text x="2154.2" y="569.3" font-size="90.6" text-anchor="start" fill="#000">100</text>
<text x="2154.8" y="778.8" font-size="90.6" text-anchor="start" fill="#000">50</text>
<text x="2155.9" y="989" font-size="90.6" text-anchor="start" fill="#000">0</text>
<text transform="translate(2407 685.3) rotate(-90)" font-size="90.6" text-anchor="middle">Counts (kcps)</text>
</g>
<g id="panel-b">
<clipPath id="cpb"><rect x="413.1" y="1312.8" width="1732.7000000000003" height="1189.5000000000002"/></clipPath>
<g clip-path="url(#cpb)" fill="none" stroke="#e54a6a" stroke-width="10" stroke-linecap="round" stroke-linejoin="round">
<path d="M476.5,2459.3 L476.5,2451.8 L476.7,2444.3 L476.9,2436.9 L477.2,2429.4 L477.5,2421.9 L478,2414.4 L478.5,2407 L479.1,2399.5 L479.9,2392 L480.6,2384.5 L481.5,2377 L482.5,2369.6 L483.5,2362.1 L484.6,2354.6 L485.8,2347.1 L487.1,2339.7 L488.5,2332.2 L489.9,2324.7 L491.4,2317.2 L493.1,2309.8 L494.7,2302.3 L496.5,2294.8 L498.4,2287.3 L500.3,2279.8 L502.4,2272.4 L504.5,2264.9 L506.7,2257.4 L508.9,2249.9 L511.3,2242.5 L513.7,2235 L516.3,2227.5 L518.9,2220 L521.6,2212.5 L524.3,2205.1 L527.2,2197.6 L530.1,2190.1 L533.1,2182.6 L536.3,2175.2 L539.4,2167.7 L542.7,2160.2 L546.1,2152.7 L549.5,2145.2 L553,2137.8 L556.6,2130.3 L560.3,2122.8 L564.1,2115.3 L567.9,2107.9 L571.8,2100.4 L575.9,2092.9 L579.9,2085.4 L584.1,2078 L588.4,2070.5 L592.7,2063 L597.2,2055.5 L601.7,2048 L606.3,2040.6 L610.9,2033.1 L615.7,2025.6 L620.5,2018.1 L625.5,2010.7 L630.5,2003.2 L635.6,1995.7 L640.7,1988.2 L646,1980.7 L651.3,1973.3 L656.7,1965.8 L662.2,1958.3 L667.8,1950.8 L673.5,1943.4 L679.3,1935.9 L685.1,1928.4 L691,1920.9 L697,1913.4 L703.1,1906 L709.3,1898.5 L715.5,1891 L721.8,1883.5 L728.2,1876.1 L734.7,1868.6 L741.3,1861.1 L748,1853.6 L754.7,1846.1 L761.6,1838.7 L768.5,1831.2 L775.5,1823.7 L782.5,1816.2 L789.7,1808.8 L796.9,1801.3 L804.3,1793.8 L811.7,1786.3 L819.2,1778.9 L826.7,1771.4 L834.4,1763.9 L842.1,1756.4 L849.9,1748.9 L857.8,1741.5 L865.8,1734 L873.9,1726.5 L882.1,1719 L890.3,1711.6 L898.6,1704.1 L907,1696.6 L915.5,1689.1 L924.1,1681.6 L932.7,1674.2 L941.4,1666.7 L950.2,1659.2 L959.1,1651.7 L968.1,1644.3 L977.2,1636.8 L986.3,1629.3 L995.6,1621.8 L1004.9,1614.3 L1014.3,1606.9 L1023.7,1599.4 L1033.3,1591.9 L1042.9,1584.4 L1052.7,1577 L1062.5,1569.5 L1072.4,1562 L1082.3,1554.5 L1092.4,1547.1 L1102.5,1539.6 L1112.7,1532.1 L1123,1524.6 L1133.4,1517.1 L1143.9,1509.7 L1154.5,1502.2 L1165.1,1494.7 L1175.8,1487.2 L1186.6,1479.8 L1197.5,1472.3 L1208.5,1464.8 L1219.5,1457.3 L1230.6,1449.8 L1241.8,1442.4 L1253.1,1434.9 L1264.5,1427.4 L1276,1419.9 L1287.5,1412.5 L1299.2,1405 L1310.9,1397.5 L1322.7,1390 L1334.5,1382.5 L1346.5,1375.1 L1358.5,1367.6 L1370.7,1360.1 L1382.9,1352.6 L1395.2,1345.2 L1407.5,1337.7 L1420,1330.2 L1432.5,1322.7 L1445.1,1315.3 L1457.8,1307.8 L1470.6,1300.3 L1483.5,1292.8 L1496.4,1285.3 L1509.5,1277.9 L1522.6,1270.4 L1535.8,1262.9"/>
<path d="M476.5,2459.3 L476.6,2458.9 L476.8,2458.1 L477.1,2457.1 L477.6,2455.9 L478.1,2454.5 L478.9,2452.9 L479.7,2451.2 L480.7,2449.4 L481.8,2447.4 L483.1,2445.3 L484.5,2443.2 L486,2440.9 L487.6,2438.5 L489.4,2436 L491.3,2433.4 L493.4,2430.7 L495.5,2427.9 L497.8,2425.1 L500.3,2422.1 L502.8,2419.1 L505.5,2416 L508.4,2412.8 L511.3,2409.5 L514.4,2406.2 L517.6,2402.8 L521,2399.3 L524.5,2395.7 L528.1,2392.1 L531.9,2388.4 L535.7,2384.6 L539.8,2380.8 L543.9,2376.9 L548.2,2372.9 L552.6,2368.9 L557.1,2364.8 L561.8,2360.6 L566.6,2356.4 L571.6,2352.1 L576.6,2347.8 L581.8,2343.4 L587.2,2338.9 L592.6,2334.4 L598.2,2329.9 L603.9,2325.2 L609.8,2320.5 L615.8,2315.8 L621.9,2311 L628.2,2306.2 L634.6,2301.3 L641.1,2296.3 L647.7,2291.3 L654.5,2286.3 L661.4,2281.2 L668.5,2276 L675.6,2270.8 L682.9,2265.5 L690.4,2260.2 L698,2254.9 L705.7,2249.5 L713.5,2244 L721.5,2238.5 L729.6,2232.9 L737.8,2227.3 L746.1,2221.7 L754.6,2216 L763.3,2210.3 L772,2204.5 L780.9,2198.6 L789.9,2192.8 L799.1,2186.8 L808.3,2180.9 L817.8,2174.9 L827.3,2168.8 L837,2162.7 L846.8,2156.6 L856.7,2150.4 L866.8,2144.2 L877,2137.9 L887.3,2131.6 L897.8,2125.2 L908.4,2118.8 L919.1,2112.4 L930,2105.9 L941,2099.4 L952.1,2092.8 L963.4,2086.2 L974.8,2079.6 L986.3,2072.9 L997.9,2066.1 L1009.7,2059.4 L1021.6,2052.6 L1033.7,2045.7 L1045.9,2038.8 L1058.2,2031.9 L1070.6,2025 L1083.2,2017.9 L1095.9,2010.9 L1108.7,2003.8 L1121.7,1996.7 L1134.8,1989.6 L1148,1982.4 L1161.4,1975.1 L1174.9,1967.9 L1188.5,1960.6 L1202.3,1953.2 L1216.2,1945.8 L1230.2,1938.4 L1244.3,1931 L1258.6,1923.5 L1273,1916 L1287.6,1908.4 L1302.3,1900.8 L1317.1,1893.2 L1332,1885.5 L1347.1,1877.8 L1362.3,1870 L1377.6,1862.3 L1393.1,1854.5 L1408.7,1846.6 L1424.5,1838.7 L1440.3,1830.8 L1456.3,1822.9 L1472.4,1814.9 L1488.7,1806.9 L1505.1,1798.8 L1521.6,1790.7 L1538.3,1782.6 L1555.1,1774.5 L1572,1766.3 L1589,1758 L1606.2,1749.8 L1623.5,1741.5 L1641,1733.2 L1658.5,1724.8 L1676.3,1716.4 L1694.1,1708 L1712.1,1699.6 L1730.2,1691.1 L1748.4,1682.6 L1766.8,1674 L1785.3,1665.4 L1803.9,1656.8 L1822.7,1648.2 L1841.6,1639.5 L1860.6,1630.8 L1879.7,1622 L1899,1613.3 L1918.4,1604.5 L1938,1595.6 L1957.7,1586.8 L1977.5,1577.9 L1997.4,1568.9 L2017.5,1560 L2037.7,1551 L2058.1,1542 L2078.5,1532.9 L2099.1,1523.8 L2119.9,1514.7 L2140.8,1505.6 L2161.8,1496.4"/>
</g>
<g stroke="#000" stroke-width="5.5" fill="none"><path d="M518.5,2180.9 V2200.2 M518.5,2279.7 V2317 M505.2,2180.9 h26.5 M505.2,2317 h26.5"/><rect x="499" y="2202.9" width="39" height="74" fill="#2094e8"/><line x1="499" y1="2240" x2="538" y2="2240"/></g>
<g stroke="#000" stroke-width="5.5" fill="none"><path d="M547.6,2047 V2130.8 M547.6,2243.7 V2301 M534.4,2047 h26.5 M534.4,2301 h26.5"/><rect x="528.1" y="2133.6" width="39" height="107.4" fill="#2094e8"/><line x1="528.1" y1="2187.8" x2="567.1" y2="2187.8"/></g>
<g stroke="#000" stroke-width="5.5" fill="none"><path d="M585.8,2058.7 V2112.6 M585.8,2213.5 V2290 M572.5,2058.7 h26.5 M572.5,2290 h26.5"/><rect x="566.3" y="2115.3" width="39" height="95.4" fill="#2094e8"/><line x1="566.3" y1="2162.7" x2="605.3" y2="2162.7"/></g>
<g stroke="#000" stroke-width="5.5" fill="none"><path d="M621,1818.5 V1902.5 M621,2050 V2099.2 M607.8,1818.5 h26.5 M607.8,2099.2 h26.5"/><rect x="601.5" y="1905.2" width="39" height="142" fill="#2094e8"/><line x1="601.5" y1="1976.5" x2="640.5" y2="1976.5"/></g>
<g stroke="#000" stroke-width="5.5" fill="none"><path d="M691.6,1705.8 V1764.6 M691.6,1870.3 V1906 M678.4,1705.8 h26.5 M678.4,1906 h26.5"/><rect x="672.1" y="1767.3" width="39" height="100.2" fill="#2094e8"/><line x1="672.1" y1="1817.4" x2="711.1" y2="1817.4"/></g>
<g stroke="#000" stroke-width="5.5" fill="none"><path d="M836,1616.2 V1683.6 M836,1809 V1906 M822.8,1616.2 h26.5 M822.8,1906 h26.5"/><rect x="816.5" y="1686.3" width="39" height="119.9" fill="#2094e8"/><line x1="816.5" y1="1745.3" x2="855.5" y2="1745.3"/></g>
<g stroke="#000" stroke-width="5.5" fill="none"><path d="M910,1511.8 V1599 M910,1751.8 V1849 M896.8,1511.8 h26.5 M896.8,1849 h26.5"/><rect x="890.5" y="1601.8" width="39" height="147.3" fill="#2094e8"/><line x1="890.5" y1="1675" x2="929.5" y2="1675"/></g>
<g stroke="#000" stroke-width="5.5" fill="none"><path d="M980.8,1504.3 V1595.7 M980.8,1725.7 V1851 M967.5,1504.3 h26.5 M967.5,1851 h26.5"/><rect x="961.3" y="1598.5" width="39" height="124.5" fill="#2094e8"/><line x1="961.3" y1="1660" x2="1000.3" y2="1660"/></g>
<g stroke="#000" stroke-width="5.5" fill="none"><path d="M1054.3,1507.3 V1552 M1054.3,1669.4 V1704.8 M1041,1507.3 h26.5 M1041,1704.8 h26.5"/><rect x="1034.8" y="1554.8" width="39" height="111.9" fill="#2094e8"/><line x1="1034.8" y1="1610.4" x2="1073.8" y2="1610.4"/></g>
<g stroke="#000" stroke-width="5.5" fill="none"><path d="M1198.8,1579.5 V1618 M1198.8,1745 V1861 M1185.5,1579.5 h26.5 M1185.5,1861 h26.5"/><rect x="1179.3" y="1620.8" width="39" height="121.5" fill="#2094e8"/><line x1="1179.3" y1="1680.8" x2="1218.3" y2="1680.8"/></g>
<g stroke="#000" stroke-width="5.5" fill="none"><path d="M1536,1614.8 V1693.2 M1536,1827.8 V1983.6 M1522.8,1614.8 h26.5 M1522.8,1983.6 h26.5"/><rect x="1516.5" y="1696" width="39" height="129.1" fill="#2094e8"/><line x1="1516.5" y1="1745" x2="1555.5" y2="1745"/></g>
<g stroke="#000" stroke-width="5.5" fill="none"><path d="M1904.8,1640 V1741.4 M1904.8,1915.6 V1991.9 M1891.5,1640 h26.5 M1891.5,1991.9 h26.5"/><rect x="1885.3" y="1744.2" width="39" height="168.7" fill="#2094e8"/><line x1="1885.3" y1="1827" x2="1924.3" y2="1827"/></g>
<g stroke="#000" stroke-width="5.5" fill="none"><path d="M518.5,2317 V2334 M518.5,2370.7 V2375.6 M505.2,2317 h26.5 M505.2,2375.6 h26.5"/><rect x="502.5" y="2336.8" width="32" height="31.2" fill="#bbbbbb"/><line x1="502.5" y1="2352.6" x2="534.5" y2="2352.6"/></g>
<g stroke="#000" stroke-width="5.5" fill="none"><path d="M547.6,2320.7 V2331.4 M547.6,2365.6 V2387.6 M534.4,2320.7 h26.5 M534.4,2387.6 h26.5"/><rect x="531.6" y="2334.2" width="32" height="28.7" fill="#bbbbbb"/><line x1="531.6" y1="2348" x2="563.6" y2="2348"/></g>
<g stroke="#000" stroke-width="5.5" fill="none"><path d="M585.8,2138.7 V2264.8 M585.8,2341.6 V2347.8 M572.5,2138.7 h26.5 M572.5,2347.8 h26.5"/><rect x="569.8" y="2267.6" width="32" height="71.3" fill="#bbbbbb"/><line x1="569.8" y1="2305.2" x2="601.8" y2="2305.2"/></g>
<g stroke="#000" stroke-width="5.5" fill="none"><path d="M621,2231.4 V2270.6 M621,2327 V2349.9 M607.8,2231.4 h26.5 M607.8,2349.9 h26.5"/><rect x="605" y="2273.3" width="32" height="50.9" fill="#bbbbbb"/><line x1="605" y1="2299" x2="637" y2="2299"/></g>
<g stroke="#000" stroke-width="5.5" fill="none"><path d="M691.6,2192.6 V2245.9 M691.6,2299.7 V2326.5 M678.4,2192.6 h26.5 M678.4,2326.5 h26.5"/><rect x="675.6" y="2248.7" width="32" height="48.3" fill="#bbbbbb"/><line x1="675.6" y1="2272.6" x2="707.6" y2="2272.6"/></g>
<g stroke="#000" stroke-width="5.5" fill="none"><path d="M836,2049.2 V2181.5 M836,2282.5 V2308.7 M822.8,2049.2 h26.5 M822.8,2308.7 h26.5"/><rect x="820" y="2184.2" width="32" height="95.5" fill="#bbbbbb"/><line x1="820" y1="2232" x2="852" y2="2232"/></g>
<g stroke="#000" stroke-width="5.5" fill="none"><path d="M910,1983.8 V2097.9 M910,2231 V2323.8 M896.8,1983.8 h26.5 M896.8,2323.8 h26.5"/><rect x="894" y="2100.7" width="32" height="127.6" fill="#bbbbbb"/><line x1="894" y1="2164.4" x2="926" y2="2164.4"/></g>
<g stroke="#000" stroke-width="5.5" fill="none"><path d="M980.8,1877.5 V2019.2 M980.8,2160.2 V2233.4 M967.5,1877.5 h26.5 M967.5,2233.4 h26.5"/><rect x="964.8" y="2022" width="32" height="135.5" fill="#bbbbbb"/><line x1="964.8" y1="2089.9" x2="996.8" y2="2089.9"/></g>
<g stroke="#000" stroke-width="5.5" fill="none"><path d="M1054.3,1880.3 V1945.7 M1054.3,2061 V2143.5 M1041,1880.3 h26.5 M1041,2143.5 h26.5"/><rect x="1038.3" y="1948.5" width="32" height="109.8" fill="#bbbbbb"/><line x1="1038.3" y1="2003.5" x2="1070.3" y2="2003.5"/></g>
<g stroke="#000" stroke-width="5.5" fill="none"><path d="M1199,1907 V1934.5 M1199,2031.2 V2069 M1185.8,1907 h26.5 M1185.8,2069 h26.5"/><rect x="1183" y="1937.2" width="32" height="91.2" fill="#bbbbbb"/><line x1="1183" y1="1982.4" x2="1215" y2="1982.4"/></g>
<g stroke="#000" stroke-width="5.5" fill="none"><path d="M1536,1619 V1675.5 M1536,1807.2 V1951.5 M1522.8,1619 h26.5 M1522.8,1951.5 h26.5"/><rect x="1520" y="1678.2" width="32" height="126.2" fill="#bbbbbb"/><line x1="1520" y1="1742.6" x2="1552" y2="1742.6"/></g>
<g stroke="#000" stroke-width="5.5" fill="none"><path d="M1904.8,1524.6 V1572.4 M1904.8,1674.5 V1792 M1891.5,1524.6 h26.5 M1891.5,1792 h26.5"/><rect x="1888.8" y="1575.2" width="32" height="96.6" fill="#bbbbbb"/><line x1="1888.8" y1="1623" x2="1920.8" y2="1623"/></g>
<rect x="413.1" y="1312.8" width="1732.7" height="1189.5" fill="none" stroke="#000" stroke-width="6"/>
<line x1="476.5" y1="2502.3" x2="476.5" y2="2474.8" stroke="#000" stroke-width="5"/>
<text x="475" y="2601.8" font-size="90.6" text-anchor="middle" fill="#000">0</text>
<line x1="797.5" y1="2502.3" x2="797.5" y2="2474.8" stroke="#000" stroke-width="5"/>
<text x="796" y="2601.8" font-size="90.6" text-anchor="middle" fill="#000">100</text>
<line x1="1118.5" y1="2502.3" x2="1118.5" y2="2474.8" stroke="#000" stroke-width="5"/>
<text x="1117" y="2601.8" font-size="90.6" text-anchor="middle" fill="#000">200</text>
<line x1="1439.5" y1="2502.3" x2="1439.5" y2="2474.8" stroke="#000" stroke-width="5"/>
<text x="1438" y="2601.8" font-size="90.6" text-anchor="middle" fill="#000">300</text>
<line x1="1760.5" y1="2502.3" x2="1760.5" y2="2474.8" stroke="#000" stroke-width="5"/>
<text x="1759" y="2601.8" font-size="90.6" text-anchor="middle" fill="#000">400</text>
<line x1="2081.5" y1="2502.3" x2="2081.5" y2="2474.8" stroke="#000" stroke-width="5"/>
<text x="2080" y="2601.8" font-size="90.6" text-anchor="middle" fill="#000">500</text>
<line x1="413.1" y1="2459.3" x2="438.8" y2="2459.3" stroke="#000" stroke-width="5"/>
<text x="373.5" y="2485.5" font-size="90.6" text-anchor="end" fill="#000">0</text>
<line x1="413.1" y1="2035" x2="438.8" y2="2035" stroke="#000" stroke-width="5"/>
<text x="373.5" y="2061.2" font-size="90.6" text-anchor="end" fill="#000">50</text>
<line x1="413.1" y1="1610.6" x2="438.8" y2="1610.6" stroke="#000" stroke-width="5"/>
<text x="373.5" y="1636.8" font-size="90.6" text-anchor="end" fill="#000">100</text>
<text x="1279.6" y="2725.4" font-size="90.6" text-anchor="middle" fill="#000">Laser write energy (nJ)</text>
<text transform="translate(180.5 1904.4) rotate(-90)" font-size="90.6" text-anchor="middle">Counts (kcps)</text>
<text x="121.6" y="1365.9" font-size="90.6" text-anchor="start" fill="#000" letter-spacing="-3.5">(b)</text>
<rect x="1722" y="2160.2" width="36.2" height="36.2" fill="#bbbbbb" stroke="#000" stroke-width="5"/>
<rect x="1722" y="2267.7" width="36.2" height="36.2" fill="#2094e8" stroke="#000" stroke-width="5"/>
<line x1="1658.8" y1="2394.2" x2="1820.6" y2="2394.2" stroke="#e54a6a" stroke-width="11.5" stroke-linecap="round"/>
<text x="1900.1" y="2201.8" font-size="90.6" text-anchor="start" fill="#000">2 μm</text>
<text x="1900.1" y="2308.9" font-size="90.6" text-anchor="start" fill="#000">4 μm</text>
<text x="1901.9" y="2428.4" font-size="90.6" text-anchor="start" fill="#000">fit</text>
</g>
<g id="panel-c">
<clipPath id="cpc"><rect x="413.1" y="2879" width="1732.7000000000003" height="1194.6"/></clipPath>
<g clip-path="url(#cpc)" fill="none" stroke="#000" stroke-width="3.8">
<path d="M476.5,4029.8 L497.5,4011.4 L518.4,3993.3 L539.4,3975.5 L560.4,3958.1 L581.4,3940.8 L602.3,3923.9 L623.3,3907.2 L644.3,3890.8 L665.2,3874.7 L686.2,3858.8 L707.2,3843.2 L728.1,3827.7 L749.1,3812.6 L770.1,3797.6 L791.1,3782.9 L812,3768.4 L833,3754.1 L854,3740 L874.9,3726.1 L895.9,3712.5 L916.9,3699 L937.9,3685.7 L958.8,3672.6 L979.8,3659.7 L1000.8,3646.9 L1021.7,3634.4 L1042.7,3622 L1063.7,3609.8 L1084.6,3597.7 L1105.6,3585.8 L1126.6,3574.1 L1147.6,3562.5 L1168.5,3551.1 L1189.5,3539.8 L1210.5,3528.7 L1231.4,3517.7 L1252.4,3506.9 L1273.4,3496.1 L1294.4,3485.6 L1315.3,3475.1 L1336.3,3464.8 L1357.3,3454.7 L1378.2,3444.6 L1399.2,3434.7 L1420.2,3424.9 L1441.1,3415.2 L1462.1,3405.6 L1483.1,3396.2 L1504.1,3386.8 L1525,3377.6 L1546,3368.5 L1567,3359.4 L1587.9,3350.5 L1608.9,3341.7 L1629.9,3333 L1650.9,3324.4 L1671.8,3315.9 L1692.8,3307.5 L1713.8,3299.2 L1734.7,3290.9 L1755.7,3282.8 L1776.7,3274.8 L1797.6,3266.8 L1818.6,3258.9 L1839.6,3251.2 L1860.6,3243.5 L1881.5,3235.9 L1902.5,3228.3 L1923.5,3220.9 L1944.4,3213.5 L1965.4,3206.2 L1986.4,3199 L2007.3,3191.8 L2028.3,3184.8 L2049.3,3177.8 L2070.3,3170.8 L2091.2,3164 L2112.2,3157.2 L2133.2,3150.5 L2154.1,3143.8"/>
<path d="M476.5,4029.8 L497.5,4015.5 L518.4,4001.4 L539.4,3987.7 L560.4,3974.2 L581.4,3961 L602.3,3948.1 L623.3,3935.4 L644.3,3923 L665.2,3910.9 L686.2,3898.9 L707.2,3887.2 L728.1,3875.8 L749.1,3864.5 L770.1,3853.5 L791.1,3842.7 L812,3832 L833,3821.6 L854,3811.3 L874.9,3801.3 L895.9,3791.4 L916.9,3781.7 L937.9,3772.1 L958.8,3762.8 L979.8,3753.6 L1000.8,3744.5 L1021.7,3735.6 L1042.7,3726.8 L1063.7,3718.2 L1084.6,3709.8 L1105.6,3701.4 L1126.6,3693.3 L1147.6,3685.2 L1168.5,3677.3 L1189.5,3669.5 L1210.5,3661.8 L1231.4,3654.2 L1252.4,3646.8 L1273.4,3639.4 L1294.4,3632.2 L1315.3,3625.1 L1336.3,3618.1 L1357.3,3611.2 L1378.2,3604.4 L1399.2,3597.7 L1420.2,3591.1 L1441.1,3584.6 L1462.1,3578.2 L1483.1,3571.9 L1504.1,3565.6 L1525,3559.5 L1546,3553.4 L1567,3547.5 L1587.9,3541.6 L1608.9,3535.8 L1629.9,3530 L1650.9,3524.4 L1671.8,3518.8 L1692.8,3513.3 L1713.8,3507.9 L1734.7,3502.5 L1755.7,3497.2 L1776.7,3492 L1797.6,3486.8 L1818.6,3481.7 L1839.6,3476.7 L1860.6,3471.8 L1881.5,3466.9 L1902.5,3462 L1923.5,3457.2 L1944.4,3452.5 L1965.4,3447.9 L1986.4,3443.3 L2007.3,3438.7 L2028.3,3434.2 L2049.3,3429.8 L2070.3,3425.4 L2091.2,3421.1 L2112.2,3416.8 L2133.2,3412.5 L2154.1,3408.4"/>
<path d="M476.5,4029.8 L497.5,4025.5 L518.4,4021.3 L539.4,4017 L560.4,4012.8 L581.4,4008.7 L602.3,4004.6 L623.3,4000.5 L644.3,3996.4 L665.2,3992.4 L686.2,3988.4 L707.2,3984.4 L728.1,3980.4 L749.1,3976.5 L770.1,3972.6 L791.1,3968.8 L812,3964.9 L833,3961.1 L854,3957.4 L874.9,3953.6 L895.9,3949.9 L916.9,3946.2 L937.9,3942.5 L958.8,3938.9 L979.8,3935.3 L1000.8,3931.7 L1021.7,3928.1 L1042.7,3924.6 L1063.7,3921.1 L1084.6,3917.6 L1105.6,3914.1 L1126.6,3910.7 L1147.6,3907.3 L1168.5,3903.9 L1189.5,3900.5 L1210.5,3897.2 L1231.4,3893.9 L1252.4,3890.6 L1273.4,3887.3 L1294.4,3884 L1315.3,3880.8 L1336.3,3877.6 L1357.3,3874.4 L1378.2,3871.2 L1399.2,3868.1 L1420.2,3864.9 L1441.1,3861.8 L1462.1,3858.8 L1483.1,3855.7 L1504.1,3852.6 L1525,3849.6 L1546,3846.6 L1567,3843.6 L1587.9,3840.7 L1608.9,3837.7 L1629.9,3834.8 L1650.9,3831.9 L1671.8,3829 L1692.8,3826.1 L1713.8,3823.3 L1734.7,3820.4 L1755.7,3817.6 L1776.7,3814.8 L1797.6,3812 L1818.6,3809.2 L1839.6,3806.5 L1860.6,3803.8 L1881.5,3801 L1902.5,3798.3 L1923.5,3795.7 L1944.4,3793 L1965.4,3790.3 L1986.4,3787.7 L2007.3,3785.1 L2028.3,3782.5 L2049.3,3779.9 L2070.3,3777.3 L2091.2,3774.8 L2112.2,3772.2 L2133.2,3769.7 L2154.1,3767.2"/>
</g>
<polygon points="797.6,3763.6 824.1,3810.6 771.1,3810.6" fill="#e0506c"/>
<polygon points="881.7,3675.7 908.2,3722.6 855.2,3722.6" fill="#e0506c"/>
<polygon points="989.9,3635.8 1016.4,3683.2 963.4,3683.2" fill="#e0506c"/>
<polygon points="1118.3,3531.4 1144.8,3578.4 1091.8,3578.4" fill="#e0506c"/>
<polygon points="1198.6,3500.2 1225.1,3547.1 1172.1,3547.1" fill="#e0506c"/>
<polygon points="1359.1,3437.7 1385.6,3484.6 1332.6,3484.6" fill="#e0506c"/>
<polygon points="1479.3,3341.1 1505.8,3388.5 1452.8,3388.5" fill="#e0506c"/>
<polygon points="1720.2,3268 1746.7,3316.3 1693.7,3316.3" fill="#e0506c"/>
<polygon points="1800.5,3238.2 1827,3286.5 1774,3286.5" fill="#e0506c"/>
<circle cx="797.6" cy="3969.2" r="22.8" fill="#c80ac6"/>
<circle cx="881.7" cy="3953.8" r="22.8" fill="#c80ac6"/>
<circle cx="989.9" cy="3929.8" r="22.8" fill="#c80ac6"/>
<circle cx="1118.3" cy="3905.3" r="22.8" fill="#c80ac6"/>
<circle cx="1198.6" cy="3902.9" r="22.8" fill="#c80ac6"/>
<circle cx="1359.1" cy="3877.9" r="22.8" fill="#c80ac6"/>
<circle cx="1479.3" cy="3844.2" r="22.8" fill="#c80ac6"/>
<circle cx="1720.2" cy="3824" r="22.8" fill="#c80ac6"/>
<circle cx="1800.5" cy="3810.6" r="22.8" fill="#c80ac6"/>
<rect x="779.6" y="3837.9" width="36.1" height="36.1" fill="#fff" stroke="#2094e8" stroke-width="10.3" stroke-linejoin="round"/>
<rect x="863.7" y="3764.8" width="36.1" height="36.1" fill="#fff" stroke="#2094e8" stroke-width="10.3" stroke-linejoin="round"/>
<rect x="971.9" y="3748.8" width="36.1" height="36.1" fill="#fff" stroke="#2094e8" stroke-width="10.3" stroke-linejoin="round"/>
<rect x="1100.2" y="3669.2" width="36.1" height="36.1" fill="#fff" stroke="#2094e8" stroke-width="10.3" stroke-linejoin="round"/>
<rect x="1180.5" y="3640.3" width="36.1" height="36.1" fill="#fff" stroke="#2094e8" stroke-width="10.3" stroke-linejoin="round"/>
<rect x="1341" y="3603.1" width="36.1" height="36.1" fill="#fff" stroke="#2094e8" stroke-width="10.3" stroke-linejoin="round"/>
<rect x="1461.2" y="3541.8" width="36.1" height="36.1" fill="#fff" stroke="#2094e8" stroke-width="10.3" stroke-linejoin="round"/>
<rect x="1702.2" y="3488.9" width="36.1" height="36.1" fill="#fff" stroke="#2094e8" stroke-width="10.3" stroke-linejoin="round"/>
<rect x="1782.5" y="3473" width="36.1" height="36.1" fill="#fff" stroke="#2094e8" stroke-width="10.3" stroke-linejoin="round"/>
<rect x="413.1" y="2879" width="1732.7" height="1194.6" fill="none" stroke="#000" stroke-width="6"/>
<line x1="476.5" y1="4073.6" x2="476.5" y2="4046.1" stroke="#000" stroke-width="5"/>
<text x="475" y="4172.4" font-size="90.6" text-anchor="middle" fill="#000">0</text>
<line x1="1279.2" y1="4073.6" x2="1279.2" y2="4046.1" stroke="#000" stroke-width="5"/>
<text x="1277.7" y="4172.4" font-size="90.6" text-anchor="middle" fill="#000">1</text>
<line x1="2081.9" y1="4073.6" x2="2081.9" y2="4046.1" stroke="#000" stroke-width="5"/>
<text x="2080.4" y="4172.4" font-size="90.6" text-anchor="middle" fill="#000">2</text>
<line x1="877.9" y1="4073.6" x2="877.9" y2="4059.6" stroke="#000" stroke-width="5"/>
<line x1="1680.6" y1="4073.6" x2="1680.6" y2="4059.6" stroke="#000" stroke-width="5"/>
<line x1="413.1" y1="4029.8" x2="438.8" y2="4029.8" stroke="#000" stroke-width="5"/>
<text x="381" y="4056.3" font-size="90.6" text-anchor="end" fill="#000">0</text>
<line x1="413.1" y1="3635.1" x2="438.8" y2="3635.1" stroke="#000" stroke-width="5"/>
<text x="381" y="3661.6" font-size="90.6" text-anchor="end" fill="#000">50</text>
<line x1="413.1" y1="3240.4" x2="438.8" y2="3240.4" stroke="#000" stroke-width="5"/>
<text x="381" y="3266.9" font-size="90.6" text-anchor="end" fill="#000">100</text>
<text x="1279.6" y="4296" font-size="90.6" text-anchor="middle" fill="#000">Laser power (mW)</text>
<text transform="translate(166.5 3493.9) rotate(-90)" font-size="90.6" text-anchor="middle">Counts (kcps)</text>
<text x="121.2" y="2971.7" font-size="90.6" text-anchor="start" fill="#000" letter-spacing="-3">(c)</text>
<polygon points="517.8,2957.6 544.3,3004.8 491.3,3004.8" fill="#e0506c"/>
<circle cx="517.8" cy="3096.6" r="26.2" fill="#c80ac6"/>
<rect x="500" y="3187.1" width="36" height="36" fill="#fff" stroke="#2094e8" stroke-width="10.3" stroke-linejoin="round"/>
<line x1="434.4" y1="3314.1" x2="601.3" y2="3314.1" stroke="#000" stroke-width="3.8"/>
<text x="678.3" y="3011.5" font-size="90.6" text-anchor="start" fill="#000">signal</text>
<text x="677.7" y="3119.5" font-size="90.6" text-anchor="start" fill="#000">background</text>
<text x="677.7" y="3228.3" font-size="90.6" text-anchor="start" fill="#000">background corrected</text>
<text x="680" y="3347.5" font-size="90.6" text-anchor="start" fill="#000">fit</text>
</g>
</svg></body></html>
